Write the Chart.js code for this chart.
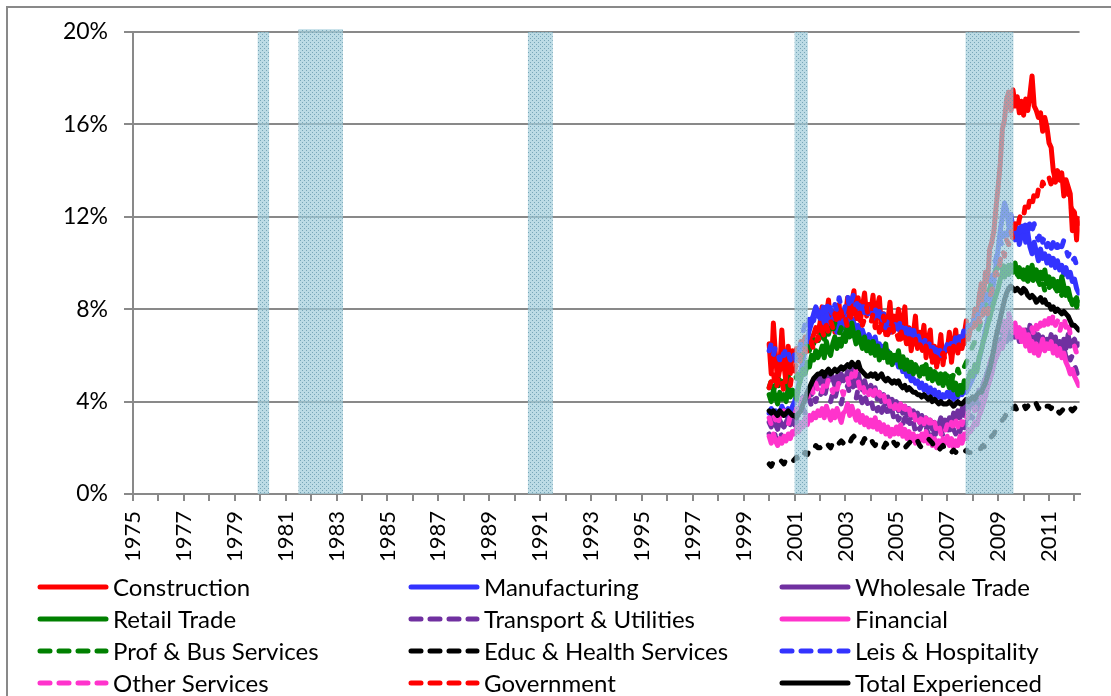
<!DOCTYPE html>
<html>
<head>
<meta charset="utf-8">
<script src="https://cdn.jsdelivr.net/npm/chart.js@4.4.1/dist/chart.umd.min.js"></script>
<style>
  html, body { margin: 0; padding: 0; background: #fff; }
  #wrap { width: 1111px; height: 696px; }
</style>
</head>
<body>
<div id="wrap"><canvas id="myChart" width="1111" height="696"></canvas></div>
<script>
// monthly rates, Jan 2000 .. Mar 2012 (one row per year)
const firstYear = 2000

const construction = [
  6.5, 5.2, 7.4, 6.0, 4.9, 5.4, 7.1, 5.6, 4.8, 6.4, 5.2, 6.2,
  5.8, 6.3, 6.1, 6.6, 6.4, 6.8, 6.5, 6.3, 6.7, 6.9, 7.2, 7.0,
  7.4, 8.1, 6.9, 7.7, 8.4, 7.3, 7.9, 7.0, 7.6, 8.2, 7.2, 7.8,
  7.7, 8.5, 7.4, 8.3, 8.8, 7.6, 8.5, 7.5, 8.1, 8.7, 7.7, 8.2,
  7.9, 8.6, 7.3, 8.1, 8.5, 7.1, 7.8, 6.9, 7.5, 8.3, 7.0, 7.7,
  7.3, 8.0, 6.7, 7.5, 8.1, 6.5, 7.2, 6.2, 6.9, 7.7, 6.3, 7.0,
  6.6, 7.3, 5.9, 6.7, 7.1, 5.7, 6.4, 5.5, 6.1, 6.9, 5.6, 6.3,
  6.2, 7.0, 5.7, 6.5, 7.1, 6.1, 6.8, 6.3, 6.9, 7.5, 6.7, 7.3,
  7.2, 8.0, 7.4, 8.5, 9.1, 8.3, 9.6, 9.2, 10.6, 10.9, 11.4, 12.4,
  13.3, 14.3, 15.8, 16.2, 17.1, 17.4, 16.6, 17.5, 16.8, 17.2, 16.5, 17.0,
  16.4, 17.1, 16.6, 17.3, 18.1, 16.8, 16.6, 16.3, 16.5, 15.7, 16.3, 15.9,
  15.2, 15.0, 14.0, 13.6, 14.0, 13.6, 13.9, 12.9, 13.6, 13.3, 13.0, 11.4,
  12.2, 11.0, 11.9
]
const manufacturing = [
  3.5, 3.7, 3.4, 3.6, 3.3, 3.5, 3.8, 3.6, 3.4, 3.7, 3.5, 3.8,
  4.0, 4.3, 4.8, 5.3, 5.8, 6.3, 6.7, 7.1, 7.4, 7.8, 8.1, 7.9,
  7.6, 7.9, 7.4, 7.8, 7.5, 7.2, 7.6, 7.3, 7.0, 7.4, 7.1, 7.5,
  7.3, 7.7, 7.2, 7.6, 7.4, 7.0, 7.3, 6.9, 7.1, 6.8, 6.6, 6.9,
  6.7, 6.4, 6.8, 6.3, 6.5, 6.1, 6.4, 6.0, 6.2, 5.8, 6.0, 5.7,
  5.9, 5.5, 5.7, 5.3, 5.4, 5.1, 5.2, 4.9, 5.0, 4.8, 4.9, 4.6,
  4.8, 4.5, 4.7, 4.4, 4.6, 4.3, 4.5, 4.2, 4.4, 4.1, 4.3, 4.2,
  4.4, 4.2, 4.5, 4.1, 4.3, 4.2, 4.4, 4.3, 4.5, 4.4, 4.6, 4.8,
  5.0, 5.2, 5.5, 5.8, 6.2, 6.6, 7.1, 7.5, 8.0, 8.6, 9.2, 9.9,
  10.6, 11.4, 12.0, 12.6, 12.3, 11.6, 12.1, 11.5, 11.0, 11.4, 10.8, 11.2,
  11.6, 10.9, 11.3, 10.7, 10.4, 10.9, 10.5, 10.1, 10.6, 10.2, 10.4, 10.0,
  10.3, 9.9, 10.2, 9.8, 10.1, 9.7, 9.9, 9.5, 9.8, 9.4, 9.6, 9.2,
  9.3, 8.9, 8.7
]
const wholesale = [
  3.1, 2.9, 3.3, 3.0, 2.8, 3.2, 3.0, 2.9, 3.1, 3.3, 3.0, 3.2,
  3.0, 3.4, 3.6, 3.9, 4.2, 4.0, 4.4, 4.6, 4.3, 4.8, 4.6, 5.0,
  4.8, 5.1, 4.7, 5.2, 4.9, 5.3, 5.0, 4.7, 5.1, 4.8, 5.2, 4.9,
  5.0, 5.3, 4.9, 5.4, 5.0, 4.7, 5.2, 4.8, 4.5, 4.9, 4.6, 4.4,
  4.7, 4.3, 4.6, 4.1, 4.4, 4.0, 4.3, 3.9, 4.2, 3.8, 4.1, 3.7,
  4.0, 3.6, 3.9, 3.5, 3.8, 3.4, 3.7, 3.3, 3.6, 3.2, 3.5, 3.1,
  3.4, 3.0, 3.3, 2.9, 3.2, 2.8, 3.1, 2.7, 3.0, 3.3, 2.9, 3.2,
  2.9, 3.3, 3.0, 3.5, 3.2, 3.6, 3.3, 3.7, 3.4, 3.9, 3.6, 4.0,
  3.8, 4.2, 4.0, 4.5, 4.3, 4.8, 5.0, 5.3, 5.6, 5.9, 6.1, 6.4,
  6.3, 6.7, 6.5, 6.9, 6.6, 7.0, 6.7, 7.2, 6.8, 7.1, 6.6, 7.0,
  6.7, 7.1, 6.6, 7.3, 6.8, 7.0, 6.5, 6.9, 6.4, 6.8, 6.3, 6.7,
  6.5, 6.9, 6.3, 6.8, 6.2, 6.6, 6.1, 6.7, 6.3, 6.9, 6.4, 6.6,
  6.7, 6.4, 6.5
]
const retail = [
  4.3, 4.0, 4.5, 4.2, 3.9, 4.4, 4.1, 4.3, 4.0, 4.6, 4.2, 4.5,
  4.4, 4.1, 4.7, 5.0, 5.4, 5.2, 5.7, 5.5, 6.0, 5.8, 6.2, 5.9,
  6.1, 6.4, 5.9, 6.6, 6.2, 6.0, 6.5, 6.8, 6.3, 6.7, 6.4, 6.9,
  6.6, 7.1, 6.8, 7.4, 6.9, 6.5, 7.0, 6.6, 6.3, 6.8, 6.2, 6.5,
  6.1, 6.6, 6.0, 6.4, 5.8, 6.2, 5.9, 6.5, 5.7, 6.1, 5.6, 6.0,
  5.8, 6.2, 5.5, 5.9, 5.4, 5.8, 5.3, 5.7, 5.2, 5.6, 5.4, 5.1,
  5.5, 5.2, 5.6, 5.0, 5.4, 4.9, 5.3, 5.0, 4.8, 5.2, 4.7, 5.0,
  4.9, 4.6, 5.1, 4.5, 4.8, 4.3, 4.7, 4.4, 4.9, 4.6, 5.0, 5.3,
  5.1, 5.6, 5.3, 5.9, 6.2, 6.6, 6.9, 7.3, 7.6, 8.0, 8.3, 8.6,
  8.9, 9.3, 9.6, 9.4, 9.8, 9.5, 9.9, 9.6, 10.0, 9.5, 9.8, 9.4,
  9.7, 9.3, 9.8, 9.5, 9.9, 9.4, 9.7, 9.2, 9.6, 9.3, 9.7, 9.1,
  9.4, 9.0, 9.3, 8.9, 9.2, 8.8, 9.4, 9.0, 8.6, 8.9, 8.5, 8.2,
  8.4, 8.1, 8.3
]
const transport = [
  2.6, 2.4, 2.8, 2.5, 2.3, 2.7, 2.5, 2.4, 2.6, 2.8, 2.5, 2.7,
  2.9, 3.2, 3.0, 3.4, 3.7, 3.5, 3.9, 4.1, 3.8, 4.2, 4.0, 4.4,
  4.2, 4.5, 4.1, 4.6, 4.3, 4.0, 4.4, 4.1, 4.5, 4.2, 3.9, 4.3,
  4.4, 4.7, 4.3, 4.8, 4.5, 4.1, 4.6, 4.2, 3.9, 4.3, 4.0, 3.8,
  4.1, 3.7, 4.0, 3.6, 3.9, 3.5, 3.8, 3.4, 3.7, 3.3, 3.6, 3.2,
  3.5, 3.2, 3.4, 3.0, 3.3, 2.9, 3.2, 2.8, 3.1, 2.7, 3.0, 2.8,
  3.0, 2.7, 2.9, 2.6, 2.8, 2.5, 2.7, 2.4, 2.6, 2.8, 2.5, 2.7,
  2.6, 2.9, 2.5, 2.8, 2.6, 3.0, 2.7, 3.1, 2.8, 3.2, 3.0, 3.4,
  3.3, 3.6, 3.5, 3.9, 4.1, 4.4, 4.8, 5.1, 5.5, 5.8, 6.2, 6.5,
  6.8, 7.1, 6.9, 7.4, 7.0, 7.3, 6.9, 7.2, 6.8, 7.0, 6.7, 7.1,
  6.9, 7.2, 6.8, 7.0, 6.6, 6.9, 6.5, 6.8, 6.4, 6.7, 6.3, 6.6,
  6.4, 6.7, 6.2, 6.6, 6.1, 6.5, 6.0, 6.4, 5.9, 6.2, 5.8, 6.0,
  5.6, 5.3, 5.1
]
const financial = [
  2.5, 2.2, 2.6, 2.3, 2.1, 2.4, 2.2, 2.5, 2.3, 2.6, 2.4, 2.7,
  2.6, 2.9, 2.7, 3.1, 2.9, 3.3, 3.0, 3.4, 3.2, 3.5, 3.3, 3.6,
  3.4, 3.7, 3.3, 3.8, 3.5, 3.2, 3.6, 3.3, 3.7, 3.4, 3.1, 3.5,
  3.6, 3.9, 3.4, 3.8, 3.5, 3.2, 3.6, 3.1, 3.4, 3.0, 3.3, 2.9,
  3.2, 2.9, 3.3, 2.8, 3.1, 2.7, 3.0, 2.6, 2.9, 2.5, 2.8, 2.6,
  2.9, 2.6, 3.0, 2.5, 2.8, 2.4, 2.7, 2.3, 2.6, 2.2, 2.5, 2.3,
  2.6, 2.3, 2.7, 2.2, 2.5, 2.1, 2.4, 2.0, 2.3, 2.1, 2.4, 2.2,
  2.5, 2.1, 2.4, 2.0, 2.3, 2.1, 2.5, 2.2, 2.6, 2.4, 2.8, 2.7,
  2.9, 3.1, 3.0, 3.4, 3.6, 3.9, 4.2, 4.6, 4.9, 5.2, 5.6, 5.9,
  6.1, 6.5, 6.3, 6.8, 7.2, 7.6, 7.3, 7.0, 7.4, 6.8, 7.1, 6.6,
  6.9, 6.4, 6.8, 6.2, 6.6, 6.1, 6.5, 6.0, 6.3, 6.7, 6.2, 6.5,
  6.3, 6.6, 6.1, 6.4, 6.0, 6.3, 5.9, 6.1, 5.7, 5.5, 5.2, 5.4,
  5.1, 4.9, 4.7
]
const profBus = [
  4.6, 4.9, 4.4, 4.8, 4.5, 5.0, 4.7, 4.9, 4.6, 5.1, 4.8, 5.0,
  5.2, 5.0, 5.5, 5.8, 6.1, 6.0, 6.4, 6.2, 6.7, 6.5, 6.9, 6.6,
  6.8, 7.1, 6.7, 7.2, 6.9, 7.3, 7.0, 7.4, 7.1, 6.9, 7.2, 6.8,
  7.0, 7.3, 6.9, 7.1, 6.7, 7.0, 6.6, 6.9, 6.5, 6.8, 6.4, 6.6,
  6.3, 6.6, 6.2, 6.5, 6.1, 6.4, 6.0, 6.2, 5.9, 6.1, 5.8, 6.0,
  5.9, 6.1, 5.7, 6.0, 5.6, 5.8, 5.5, 5.7, 5.4, 5.6, 5.3, 5.5,
  5.4, 5.6, 5.2, 5.5, 5.1, 5.3, 5.0, 5.2, 4.9, 5.1, 5.0, 5.2,
  5.1, 5.3, 4.9, 5.2, 5.0, 5.4, 5.1, 5.3, 5.5, 5.7, 5.9, 6.2,
  6.4, 6.6, 6.9, 7.2, 7.5, 7.9, 8.2, 8.6, 8.9, 9.2, 9.5, 9.7,
  9.8, 10.1, 9.7, 10.0, 9.6, 9.9, 9.5, 9.8, 9.4, 9.7, 9.3, 9.6,
  9.3, 9.6, 9.2, 9.5, 9.1, 9.4, 9.0, 9.3, 8.9, 9.2, 8.8, 9.1,
  8.9, 9.2, 8.8, 9.0, 8.7, 8.9, 8.6, 8.8, 8.5, 8.7, 8.4, 8.6,
  8.3, 8.5, 8.2
]
const educHealth = [
  1.3, 1.2, 1.4, 1.3, 1.4, 1.5, 1.4, 1.3, 1.5, 1.4, 1.3, 1.4,
  1.5, 1.6, 1.4, 1.5, 1.7, 1.8, 1.7, 1.9, 2.0, 1.9, 2.1, 2.0,
  2.0, 2.1, 2.0, 2.2, 2.1, 2.0, 2.2, 2.3, 2.1, 2.2, 2.3, 2.2,
  2.1, 2.3, 2.2, 2.4, 2.5, 2.3, 2.4, 2.3, 2.2, 2.4, 2.3, 2.5,
  2.4, 2.2, 2.1, 2.3, 2.2, 2.1, 2.0, 2.2, 2.1, 2.3, 2.4, 2.2,
  2.1, 2.2, 2.3, 2.1, 2.0, 2.1, 2.2, 2.3, 2.4, 2.2, 2.3, 2.1,
  2.0, 2.1, 2.2, 2.4, 2.3, 2.2, 2.0, 2.1, 1.9, 2.0, 2.1, 1.9,
  2.0, 1.9, 1.8, 1.9, 1.8, 1.9, 1.8, 1.7, 1.8, 1.9, 1.8, 1.8,
  1.8, 1.9, 1.8, 1.9, 2.0, 2.1, 2.0, 2.2, 2.4, 2.5, 2.6, 2.8,
  2.9, 3.1, 3.2, 3.3, 3.5, 3.6, 3.5, 3.7, 3.8, 3.6, 3.7, 3.8,
  3.9, 3.7, 3.8, 3.9, 4.0, 4.1, 3.9, 3.7, 3.8, 3.7, 3.6, 3.8,
  3.8, 3.7, 3.9, 3.8, 3.6, 3.5, 3.6, 3.7, 3.8, 3.9, 3.7, 3.6,
  3.7, 3.8, 3.7
]
const leisHosp = [
  6.2, 6.5, 6.0, 6.4, 6.1, 5.8, 6.3, 6.0, 6.4, 6.1, 5.8, 6.2,
  6.0, 5.7, 6.1, 6.6, 7.0, 7.4, 7.1, 7.6, 7.9, 7.5, 8.0, 7.7,
  8.1, 7.8, 8.3, 7.9, 8.4, 8.0, 7.7, 8.2, 7.9, 8.5, 8.1, 7.8,
  8.2, 8.6, 8.0, 8.4, 8.7, 8.1, 8.5, 7.9, 8.3, 7.8, 8.2, 7.7,
  8.0, 7.6, 8.1, 7.5, 7.9, 7.3, 7.8, 7.2, 7.6, 7.0, 7.4, 7.1,
  7.5, 7.1, 7.6, 7.0, 7.4, 6.9, 7.3, 6.8, 7.2, 6.7, 7.0, 6.6,
  6.9, 6.5, 6.8, 6.3, 6.7, 6.2, 6.6, 6.1, 6.5, 6.0, 6.4, 6.2,
  6.5, 6.1, 6.6, 6.3, 6.8, 6.4, 7.0, 6.7, 7.2, 6.9, 7.4, 7.6,
  7.3, 7.8, 7.5, 8.1, 7.9, 8.4, 8.2, 8.7, 8.9, 9.3, 9.8, 10.2,
  10.6, 11.0, 10.7, 11.3, 10.9, 11.5, 11.1, 11.6, 11.2, 11.7, 11.3, 11.6,
  11.2, 11.7, 11.3, 11.8, 11.4, 11.7, 11.2, 11.0, 11.4, 10.9, 11.2, 10.7,
  11.0, 10.6, 10.9, 10.5, 10.8, 10.4, 10.7, 11.0, 10.6, 10.3, 10.5, 10.1,
  10.2, 9.9, 9.7
]
const otherServices = [
  3.3, 3.0, 3.5, 3.2, 2.9, 3.4, 3.1, 3.6, 3.3, 3.0, 3.4, 3.2,
  3.4, 3.7, 3.5, 3.9, 4.2, 4.0, 4.4, 4.1, 4.6, 4.3, 4.8, 4.5,
  4.7, 4.4, 4.9, 4.6, 5.0, 4.7, 4.4, 4.8, 4.5, 4.9, 4.6, 4.3,
  4.7, 5.0, 4.6, 5.2, 4.8, 5.4, 4.9, 4.5, 4.8, 4.4, 4.7, 4.3,
  4.6, 4.2, 4.5, 4.1, 4.4, 4.0, 4.3, 3.9, 4.2, 3.8, 4.1, 3.7,
  4.0, 3.6, 3.9, 3.5, 3.8, 3.4, 3.7, 3.3, 3.6, 3.2, 3.5, 3.1,
  3.4, 3.0, 3.3, 2.9, 3.2, 2.8, 3.1, 2.7, 3.0, 2.6, 2.9, 2.7,
  3.0, 2.7, 3.1, 2.8, 3.2, 2.9, 3.3, 3.0, 3.4, 3.2, 3.6, 3.5,
  3.8, 3.6, 4.0, 4.3, 4.1, 4.6, 4.9, 5.3, 5.6, 6.0, 6.3, 6.7,
  6.9, 7.3, 7.0, 7.5, 7.2, 7.8, 7.4, 7.0, 7.3, 6.9, 7.2, 6.8,
  7.1, 6.7, 7.0, 6.6, 7.2, 6.8, 7.3, 6.9, 7.4, 7.0, 7.5, 7.1,
  7.6, 7.2, 7.8, 7.3, 7.5, 7.0, 7.4, 7.7, 7.2, 7.5, 6.9, 6.6,
  6.4, 6.1, 5.9
]
const government = [
  4.6, 4.9, 5.3, 4.5, 4.8, 5.6, 4.9, 4.4, 5.2, 5.0, 4.7, 5.4,
  5.3, 5.7, 5.5, 6.0, 5.8, 6.3, 6.1, 6.4, 6.6, 6.2, 6.5, 6.8,
  6.6, 7.1, 6.8, 7.3, 7.0, 7.5, 7.2, 7.8, 7.4, 7.6, 7.9, 7.4,
  7.6, 7.2, 7.8, 7.5, 8.0, 7.4, 7.7, 7.9, 7.3, 7.6, 8.1, 7.5,
  7.4, 7.8, 7.2, 7.6, 7.0, 7.3, 7.7, 7.1, 6.9, 7.2, 7.5, 6.8,
  7.0, 6.7, 7.2, 6.6, 6.9, 6.4, 6.8, 6.5, 6.3, 6.7, 6.2, 6.5,
  6.3, 6.0, 6.4, 5.9, 6.2, 5.7, 6.0, 5.8, 5.6, 5.9, 6.1, 5.8,
  6.0, 6.3, 5.9, 6.4, 6.2, 6.6, 6.3, 6.8, 6.5, 7.0, 6.8, 7.2,
  7.0, 7.4, 7.1, 7.6, 7.3, 7.9, 8.2, 7.8, 8.5, 8.8, 9.3, 9.6,
  9.4, 10.1, 10.6, 10.3, 11.0, 10.8, 11.4, 11.0, 11.7, 11.4, 11.9, 12.2,
  12.0, 12.6, 12.3, 12.8, 12.5, 13.0, 12.7, 13.2, 13.0, 13.5, 13.3, 13.6,
  13.7, 13.4, 13.8, 13.5, 13.9, 13.6, 13.7, 13.3, 13.4, 13.0, 12.6, 12.2,
  12.4, 11.9, 11.6
]
const totalExperienced = [
  3.6, 3.5, 3.6, 3.5, 3.4, 3.6, 3.5, 3.4, 3.5, 3.6, 3.5, 3.4,
  3.4, 3.3, 3.5, 3.6, 3.9, 4.1, 4.4, 4.6, 4.8, 5.0, 5.1, 5.2,
  5.2, 5.3, 5.1, 5.3, 5.4, 5.2, 5.3, 5.4, 5.3, 5.4, 5.5, 5.4,
  5.5, 5.6, 5.5, 5.7, 5.6, 5.5, 5.7, 5.4, 5.3, 5.2, 5.1, 5.1,
  5.2, 5.1, 5.2, 5.0, 5.1, 5.2, 5.0, 4.9, 5.0, 4.9, 4.8, 4.9,
  4.8, 4.9, 4.7, 4.6, 4.7, 4.5, 4.6, 4.5, 4.4, 4.4, 4.3, 4.3,
  4.2, 4.3, 4.2, 4.1, 4.2, 4.0, 4.1, 4.0, 3.9, 4.0, 3.9, 3.9,
  3.9, 4.0, 3.9, 3.8, 3.9, 4.0, 3.9, 3.9, 4.0, 4.1, 4.0, 4.1,
  4.2, 4.1, 4.3, 4.4, 4.4, 4.6, 4.8, 5.1, 5.4, 5.8, 6.3, 6.8,
  7.2, 7.6, 8.0, 8.4, 8.7, 8.9, 9.0, 8.9, 8.8, 8.9, 8.8, 8.7,
  8.9, 8.8, 8.6, 8.5, 8.6, 8.5, 8.3, 8.4, 8.5, 8.3, 8.4, 8.2,
  8.2, 8.0, 8.1, 7.9, 8.0, 7.9, 7.8, 7.9, 7.8, 7.7, 7.5, 7.3,
  7.3, 7.2, 7.1
]

// recession shading (in years)
const recessionStart = [1979.9, 1981.5, 1990.52, 2001.0, 2007.72]
const recessionEnd = [1980.35, 1983.25, 1991.5, 2001.52, 2009.6]
const recessionTop = [20, 20.12, 20, 20, 20]

const yTicks = [0, 4, 8, 12, 16, 20]

const series = [
  ['Construction', construction, '#ff0000', false],
  ['Manufacturing', manufacturing, '#3333ff', false],
  ['Wholesale Trade', wholesale, '#7030a0', false],
  ['Retail Trade', retail, '#008000', false],
  ['Transport & Utilities', transport, '#7030a0', true],
  ['Financial', financial, '#ff33cc', false],
  ['Prof & Bus Services', profBus, '#008000', true],
  ['Educ & Health Services', educHealth, '#000000', true],
  ['Leis & Hospitality', leisHosp, '#3333ff', true],
  ['Other Services', otherServices, '#ff33cc', true],
  ['Government', government, '#ff0000', true],
  ['Total Experienced', totalExperienced, '#000000', false]
]

const gray = '#898989'
const fontName = 'Lato, "Open Sans", sans-serif'

let datasets = series.map((s, i) => ({
  label: s[0],
  data: s[1].map((v, k) => ({ x: firstYear + k / 12, y: v })),
  borderColor: s[2],
  backgroundColor: s[2],
  borderWidth: 5,
  borderDash: s[3] ? [6, 14] : [],
  borderCapStyle: 'round',
  borderJoinStyle: 'round',
  pointRadius: 0,
  tension: 0,
  order: series.length - i
}))

function recessionPattern(ctx) {
  let c = document.createElement('canvas')
  c.width = 4
  c.height = 4
  let p = c.getContext('2d')
  p.fillStyle = 'rgba(162, 205, 219, 0.72)'
  p.fillRect(0, 0, 4, 4)
  p.fillStyle = 'rgba(108, 158, 176, 0.85)'
  p.fillRect(0, 0, 1, 1)
  p.fillRect(2, 2, 1, 1)
  return ctx.createPattern(c, 'repeat')
}

const recessions = {
  id: 'recessions',
  afterDatasetsDraw(chart) {
    let ctx = chart.ctx
    let xs = chart.scales.x
    let ys = chart.scales.y
    ctx.save()
    ctx.fillStyle = recessionPattern(ctx)
    recessionStart.forEach((st, i) => {
      let x1 = xs.getPixelForValue(st)
      let x2 = xs.getPixelForValue(recessionEnd[i])
      let y1 = ys.getPixelForValue(recessionTop[i])
      let y2 = ys.getPixelForValue(0)
      ctx.fillRect(x1, y1, x2 - x1, y2 - y1)
    })
    ctx.restore()
  }
}

const frame = {
  id: 'frame',
  beforeDraw(chart) {
    let ctx = chart.ctx
    ctx.save()
    ctx.fillStyle = '#fff'
    ctx.fillRect(0, 0, chart.width, chart.height)
    ctx.strokeStyle = gray
    ctx.lineWidth = 2
    ctx.beginPath()
    ctx.moveTo(7, chart.height)
    ctx.lineTo(7, 7)
    ctx.lineTo(chart.width, 7)
    ctx.stroke()
    ctx.restore()
  }
}

const legendCols = [38, 409, 780]
const legendRows = [587, 619, 651, 683]

const bottomLegend = {
  id: 'bottomLegend',
  afterDraw(chart) {
    let ctx = chart.ctx
    ctx.save()
    ctx.font = '24px ' + fontName
    ctx.textBaseline = 'middle'
    ctx.fillStyle = '#000'
    chart.data.datasets.forEach((ds, i) => {
      let x = legendCols[i % 3]
      let y = legendRows[Math.floor(i / 3)]
      ctx.strokeStyle = ds.borderColor
      ctx.lineWidth = 5
      ctx.lineCap = 'round'
      ctx.setLineDash(ds.borderDash.length ? [10, 9] : [])
      ctx.beginPath()
      ctx.moveTo(x + 2, y)
      ctx.lineTo(x + 68, y)
      ctx.stroke()
      ctx.setLineDash([])
      ctx.fillText(ds.label, x + 75, y + 1)
    })
    ctx.restore()
  }
}

const ctx = document.getElementById('myChart')

new Chart(ctx, {
  type: 'line',
  data: { datasets: datasets },
  plugins: [frame, recessions, bottomLegend],
  options: {
    responsive: false,
    animation: false,
    devicePixelRatio: 1,
    layout: { padding: { left: 0, right: 24, top: 32, bottom: 122 } },
    plugins: {
      legend: { display: false },
      tooltip: { enabled: false }
    },
    scales: {
      x: {
        type: 'linear',
        min: 1975,
        max: 2012.2,
        afterFit: s => { s.height = 80 },
        border: { display: true, color: gray, width: 2 },
        grid: { drawOnChartArea: false, drawTicks: true, tickLength: 7, color: gray, lineWidth: 2 },
        ticks: {
          stepSize: 1,
          includeBounds: false,
          autoSkip: false,
          maxRotation: 90,
          minRotation: 90,
          padding: 10,
          color: '#000',
          font: { family: fontName, size: 22 },
          callback: v => (Math.round(v) % 2 === 1 ? String(Math.round(v)) : '')
        }
      },
      y: {
        min: 0,
        max: 20,
        afterFit: s => { s.width = 133 },
        afterBuildTicks: s => { s.ticks = yTicks.map(v => ({ value: v })) },
        border: { display: true, color: gray, width: 2 },
        grid: { color: gray, lineWidth: 2, tickLength: 9 },
        ticks: {
          padding: 16,
          color: '#000',
          font: { family: fontName, size: 23 },
          callback: v => v + '%'
        }
      }
    }
  }
})
</script>
</body>
</html>
